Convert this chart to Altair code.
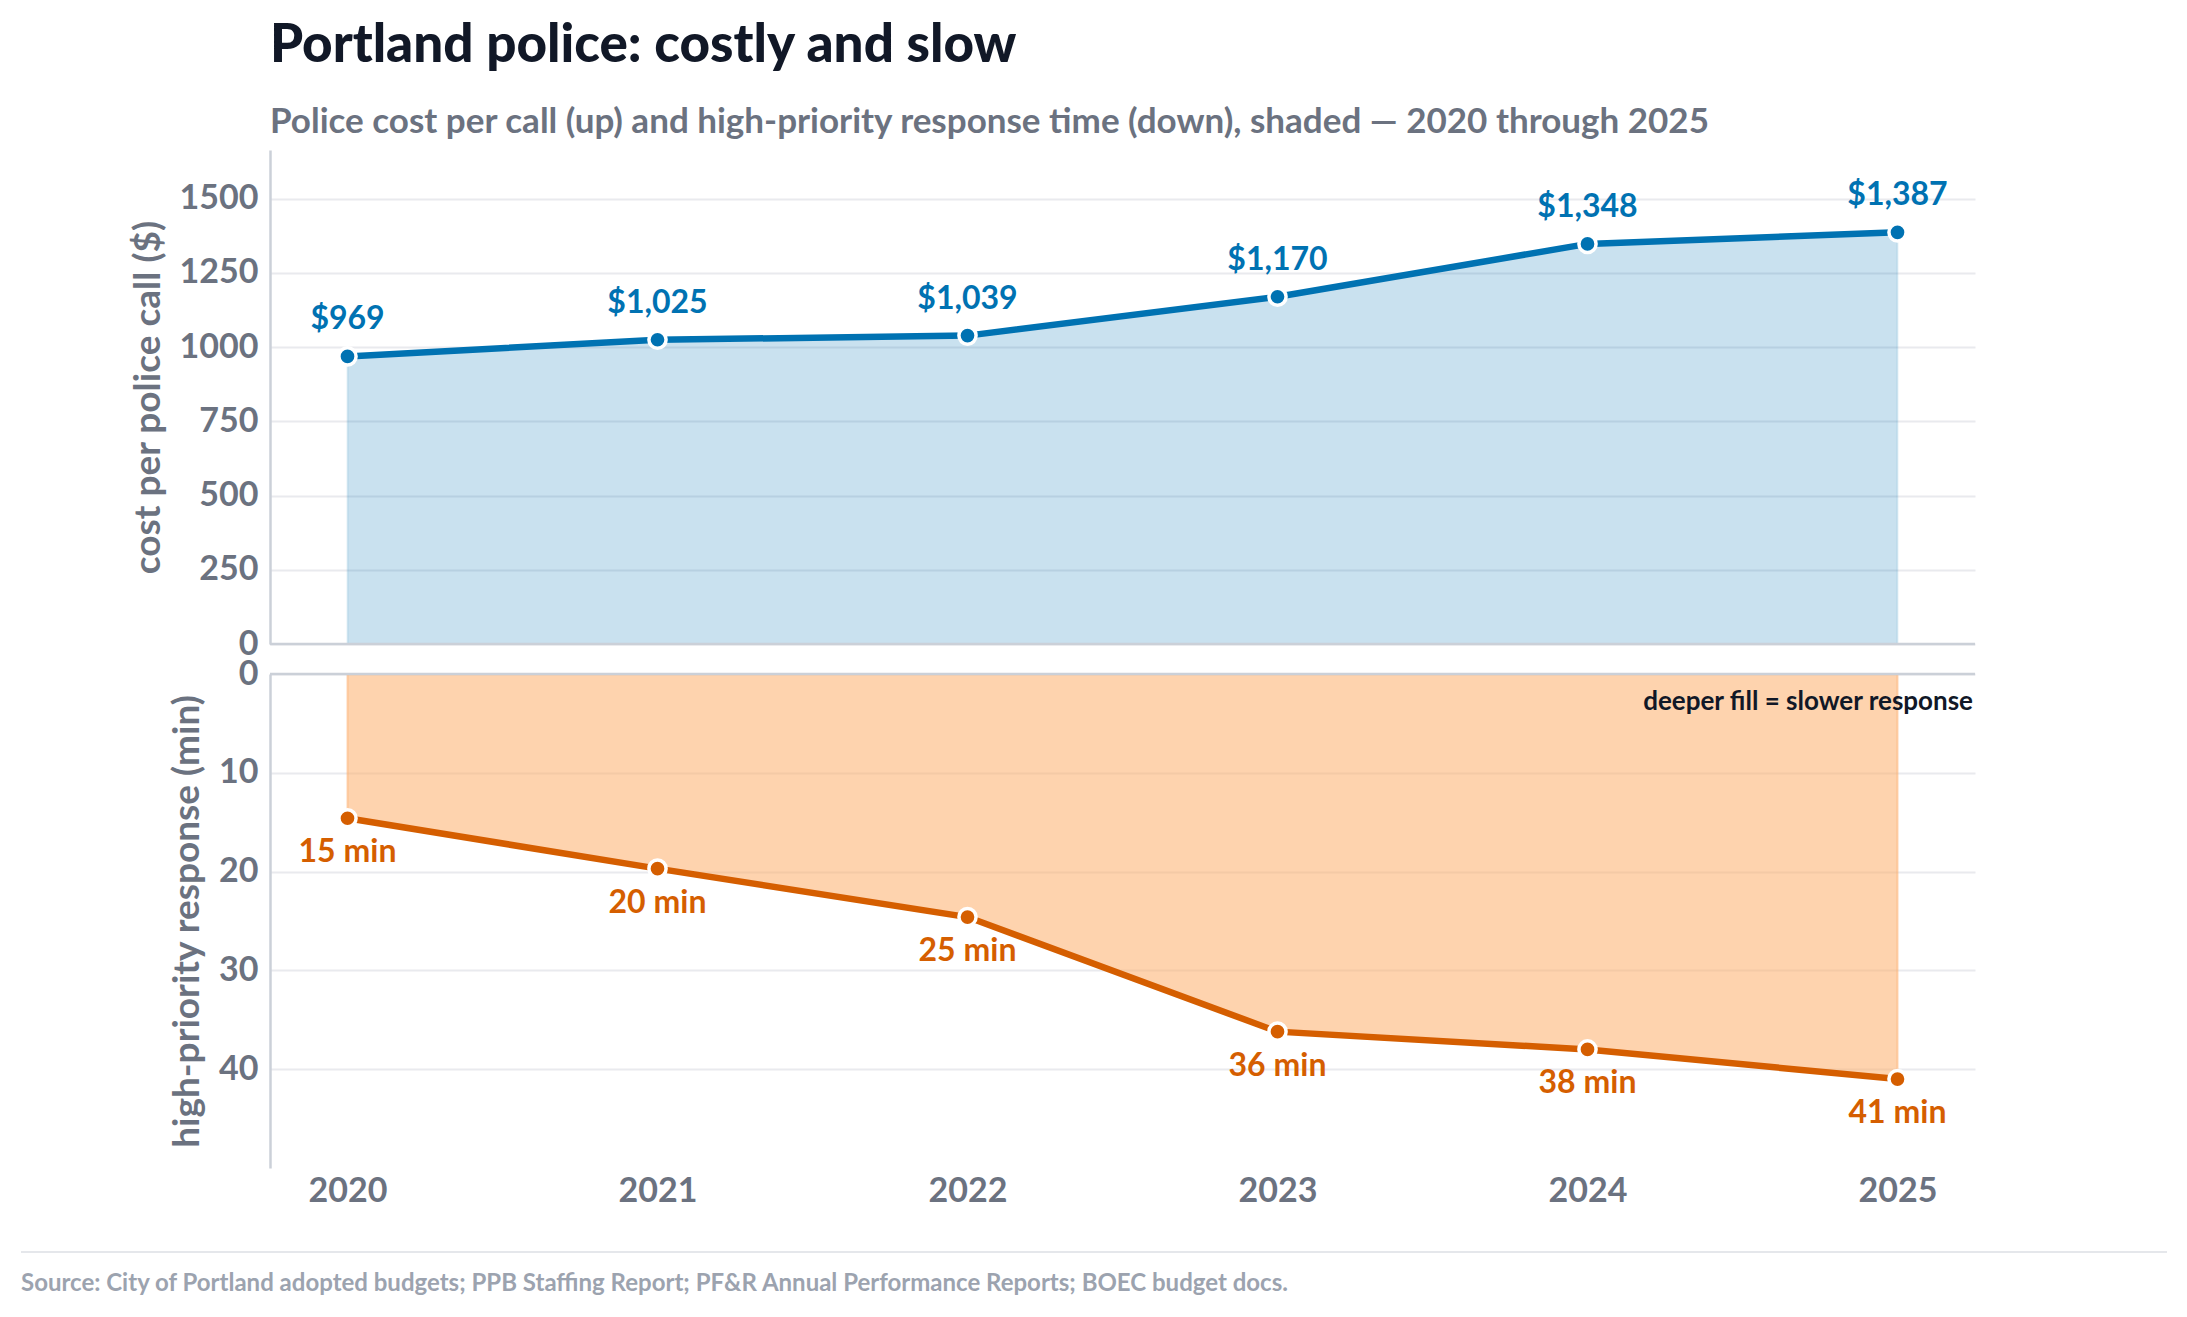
import altair as alt
import pandas as pd

# values
years = [2020, 2021, 2022, 2023, 2024, 2025]
cost_per_call = [969, 1025, 1039, 1170, 1348, 1387]
response_min = [14.6, 19.7, 24.6, 36.2, 38.0, 41.0]
cost_ticks = [0, 250, 500, 750, 1000, 1250, 1500]
resp_ticks = [0, 10, 20, 30, 40]

title_text = "Portland police: costly and slow"
subtitle_text = "Police cost per call (up) and high-priority response time (down), shaded \u2014 2020 through 2025"
note_text = "deeper fill = slower response"
source_text = "Source: City of Portland adopted budgets; PPB Staffing Report; PF&R Annual Performance Reports; BOEC budget docs."

BLUE = "#0072B2"
ORANGE = "#D55E00"
FONT = "Lato"
W, H = 1705, 494

df = pd.DataFrame({"year": years, "cost": cost_per_call, "resp": response_min})

x_scale = alt.Scale(domain=[2019.75, 2025.25], nice=False)

# ---- top panel: cost per call, rising up
base_top = alt.Chart(df).encode(
    x=alt.X("year:Q", scale=x_scale, axis=None),
    y=alt.Y("cost:Q", scale=alt.Scale(domain=[0, 1664.4], nice=False),
            axis=alt.Axis(values=cost_ticks, format="d", title="cost per police call ($)")),
)
top_area = base_top.mark_area(color=BLUE, fillOpacity=0.21, stroke=BLUE,
                              strokeOpacity=0.1, strokeWidth=2)
top_line = base_top.mark_line(color=BLUE, strokeWidth=6.5)
top_pts = base_top.mark_circle(size=295, color=BLUE, opacity=1,
                               stroke="white", strokeWidth=3.5)
top_lbl = base_top.mark_text(dy=-37, fontSize=32, fontWeight="bold",
                             font=FONT, color=BLUE).encode(
    text=alt.Text("cost:Q", format="$,.0f"))
top_zero = alt.Chart(pd.DataFrame({"y": [0]})).mark_rule(
    color="#cbd0d8", strokeWidth=2.5).encode(y="y:Q")

top = alt.layer(top_area, top_line, top_pts, top_lbl, top_zero).properties(
    width=W, height=H,
    title=alt.TitleParams(
        text=title_text, subtitle=subtitle_text, anchor="start", frame="group",
        font=FONT, fontSize=53, fontWeight=900, color="#111827",
        subtitleFont=FONT, subtitleFontSize=35, subtitleFontWeight="bold",
        subtitleColor="#6b7280", subtitlePadding=32, offset=10,
    ),
)

# ---- bottom panel: response time, hanging down
base_bot = alt.Chart(df).transform_calculate(
    label="format(datum.resp, '.0f') + ' min'"
).encode(
    x=alt.X("year:Q", scale=x_scale,
            axis=alt.Axis(values=years, format="d", title=None, grid=False,
                          domain=False, ticks=False, labelPadding=6)),
    y=alt.Y("resp:Q", scale=alt.Scale(domain=[0, 50], nice=False, reverse=True),
            axis=alt.Axis(values=resp_ticks, title="high-priority response (min)")),
)
bot_area = base_bot.mark_area(color="#fdae6b", fillOpacity=0.55, stroke="#fdae6b",
                              strokeOpacity=0.5, strokeWidth=2)
bot_line = base_bot.mark_line(color=ORANGE, strokeWidth=6.5)
bot_pts = base_bot.mark_circle(size=295, color=ORANGE, opacity=1,
                               stroke="white", strokeWidth=3.5)
bot_lbl = base_bot.mark_text(dy=34, fontSize=32, fontWeight="bold",
                             font=FONT, color=ORANGE).encode(text="label:N")
bot_zero = alt.Chart(pd.DataFrame({"y": [0]})).mark_rule(
    color="#cbd0d8", strokeWidth=2.5).encode(y="y:Q")

one = pd.DataFrame({"note": [note_text], "src": [source_text]})
note = alt.Chart(one).mark_text(
    align="right", baseline="middle", fontSize=26, fontWeight="bold",
    font=FONT, color="#111827",
).encode(x=alt.value(W - 2), y=alt.value(28), text="note:N")
src_rule = alt.Chart(one).mark_rule(color="#e5e7eb", strokeWidth=2).encode(
    x=alt.value(-249), x2=alt.value(1897), y=alt.value(H + 84))
src_text = alt.Chart(one).mark_text(
    align="left", baseline="middle", fontSize=24, fontWeight="bold",
    font=FONT, color="#9ca3af",
).encode(x=alt.value(-249), y=alt.value(H + 116), text="src:N")

bottom = alt.layer(bot_area, bot_line, bot_pts, bot_lbl, bot_zero,
                   note, src_rule, src_text).properties(width=W, height=H)

chart = alt.vconcat(top, bottom, spacing=-4).properties(
    padding={"left": 12, "top": 12, "right": 5, "bottom": 5}
).configure_view(stroke=None).configure_axis(
    labelFont=FONT, labelFontSize=34, labelFontWeight="bold", labelColor="#6b7280",
    titleFont=FONT, titleFontSize=37, titleFontWeight="bold", titleColor="#6b7280",
    titlePadding=12, labelPadding=12, ticks=False,
    gridColor="#e9eaee", gridWidth=2, domainColor="#cbd0d8", domainWidth=2.5,
).configure_text(font=FONT)

chart.save("out.html", embed_options={"renderer": "svg", "actions": False})
